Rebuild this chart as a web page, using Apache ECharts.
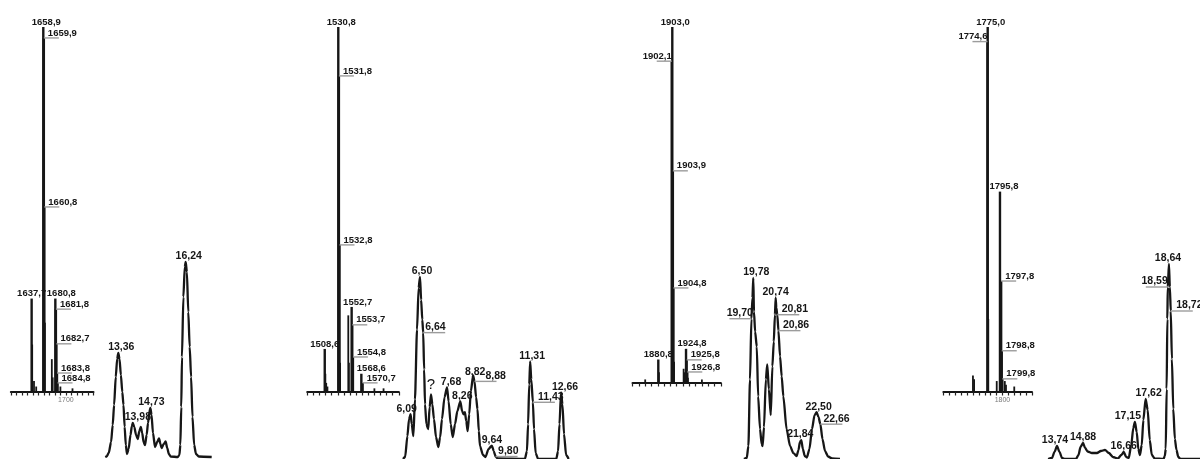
<!DOCTYPE html>
<html>
<head>
<meta charset="utf-8">
<script src="https://cdn.jsdelivr.net/npm/echarts@6/dist/echarts.min.js"></script>
<style>
  html, body { margin: 0; padding: 0; background: #fff; }
  #chart { width: 1200px; height: 459px; }
</style>
</head>
<body>
<div id="chart"></div>
<script>
// ---------- Mass spectra: [m/z, relative intensity %] ----------
const specA_labelled = [[1658.9,100],[1659.9,97],[1660.8,50.7],[1637.7,25.6],[1680.8,25.6],[1681.8,22.7],[1682.7,13.2],[1683.8,5.2],[1684.8,2.5]];
const specA_minor    = [[1638.7,13],[1642.0,3],[1661.8,19],[1674.4,9],[1676.0,4],[1646.0,1.5],[1690.0,1.5],[1712.0,1]];

const specB_labelled = [[1530.8,100],[1531.8,86.6],[1532.8,40.3],[1508.6,11.8],[1552.7,23.3],[1553.7,18.4],[1554.8,9.6],[1568.6,5.0],[1570.7,2.5]];
const specB_minor    = [[1509.6,5],[1511.0,2.5],[1533.8,8],[1547.2,21],[1548.2,8],[1513.0,1.5],[1590.0,1],[1605.0,1]];

const specC_labelled = [[1903.0,100],[1902.1,90.4],[1903.9,59.6],[1904.8,26.7],[1880.8,6.6],[1924.8,9.6],[1925.8,6.5],[1926.8,3.1]];
const specC_minor    = [[1881.8,3],[1905.8,6],[1921.0,4],[1922.5,3],[1927.8,1.5],[1860.0,1],[1950.0,1]];

const specD_labelled = [[1775.0,100],[1774.6,96],[1795.8,54.9],[1797.8,30.4],[1798.8,11.3],[1799.8,3.6]];
const specD_minor    = [[1750.0,4.5],[1752.0,3.5],[1776.0,20],[1790.3,3],[1796.8,22],[1804.0,3],[1806.0,2],[1820.0,1.5]];

// m/z tick labels printed under the spectra
const specA_ticks = [1700];
const specB_ticks = [];
const specC_ticks = [];
const specD_ticks = [1800];

// ---------- Chromatograms: [retention time, min ; signal, a.u.] ----------
const lcA_trace = [[12.80,0],[12.86,0.5],[12.95,4],[13.05,15],[13.12,32],[13.18,52],[13.25,80],[13.31,98],[13.36,104],[13.41,98],[13.47,82],[13.53,65],[13.58,52],[13.63,30],[13.68,12],[13.73,3],
  [13.80,8],[13.88,22],[13.94,31],[13.98,34],[14.04,30],[14.12,22],[14.19,18],[14.26,26],[14.32,30],[14.38,24],[14.44,15],[14.50,12],[14.57,22],[14.63,34],[14.68,44],[14.73,49],[14.78,42],[14.84,24],[14.93,10],
  [15.02,15],[15.10,18.5],[15.16,13],[15.21,9],[15.30,13],[15.38,15.5],[15.45,9],[15.52,3],[15.60,0.5],[15.90,0],[15.97,2],[16.01,12],[16.05,50],[16.08,100],[16.14,160],[16.20,190],[16.24,195],[16.29,185],[16.35,145],
  [16.41,110],[16.47,80],[16.53,40],[16.60,12],[16.68,3],[16.80,0.5],[17.35,0]];
const lcA_peaks = [13.36, 13.98, 14.73, 16.24];

const lcB_trace = [[5.76,0],[5.85,2],[5.95,23],[6.02,40],[6.09,45],[6.14,35],[6.21,23],[6.28,60],[6.37,130],[6.44,172],[6.50,183],[6.55,160],[6.60,140],[6.64,127],[6.68,90],[6.72,55],[6.78,35],[6.86,30],
  [6.92,52],[6.98,65],[7.04,55],[7.11,40],[7.20,22],[7.30,12],[7.38,22],[7.46,40],[7.57,62],[7.68,72],[7.75,58],[7.84,35],[7.93,22],[8.03,35],[8.13,48],[8.26,58],[8.34,48],[8.40,45],[8.46,47],[8.52,38],[8.58,28],
  [8.65,45],[8.72,68],[8.82,84],[8.88,78],[8.95,62],[9.01,50],[9.07,28],[9.12,13],[9.25,4],[9.36,2],[9.49,10],[9.64,13.5],[9.72,8],[9.80,2.5],[9.90,0.5],[11.08,0],[11.17,8],[11.22,35],[11.27,75],[11.31,98],
  [11.36,80],[11.43,57],[11.48,30],[11.55,6],[11.66,0],[12.45,0],[12.53,8],[12.59,35],[12.66,67],[12.72,55],[12.79,25],[12.88,4],[12.99,0]];
const lcB_peaks = [6.09, 6.50, 6.64, 7.68, 8.26, 8.82, 8.88, 9.64, 9.80, 11.31, 11.43, 12.66];
const lcB_unassigned = [6.98];

const lcC_trace = [[19.38,0],[19.50,1],[19.57,13],[19.64,80],[19.70,141],[19.745,162],[19.78,182],[19.81,148],[19.86,128],[19.93,113],[19.99,63],[20.07,30],[20.14,15],[20.18,13],[20.24,32],[20.32,80],[20.38,95],
  [20.45,70],[20.53,44],[20.60,93],[20.66,118],[20.71,145],[20.74,162],[20.77,152],[20.81,145],[20.86,129],[20.93,103],[21.00,83],[21.07,63],[21.21,30],[21.36,13],[21.50,6],[21.64,3],[21.72,9],[21.78,17],[21.84,19],
  [21.91,10],[21.99,3],[22.08,1.5],[22.19,10],[22.30,30],[22.41,44],[22.50,47],[22.58,42],[22.66,35],[22.75,20],[22.86,8],[22.99,2.5],[23.16,0.5],[23.50,0]];
const lcC_peaks = [19.70, 19.78, 20.74, 20.81, 20.86, 21.84, 22.50, 22.66];

const lcD_trace = [[13.35,0],[13.52,1],[13.63,7],[13.74,13],[13.85,7],[13.96,1],[14.09,0],[14.57,0],[14.68,4],[14.77,12],[14.88,16],[14.97,11],[15.08,7.5],[15.27,6],[15.49,6],[15.66,8],[15.84,9],[16.01,6],
  [16.19,2],[16.40,0.5],[16.56,4],[16.66,7],[16.77,2],[16.88,1],[16.99,14],[17.08,31],[17.15,37],[17.23,27],[17.30,10],[17.37,4],[17.45,14],[17.52,39],[17.62,60],[17.71,49],[17.80,19],[17.89,4],[18.02,0.5],
  [18.40,0],[18.46,3],[18.50,10],[18.54,70],[18.57,140],[18.59,172],[18.64,195],[18.68,172],[18.72,148],[18.77,100],[18.83,50],[18.90,20],[18.97,9],[19.05,2],[19.15,0],[20.0,0]];
const lcD_peaks = [13.74, 14.88, 16.66, 17.15, 17.62, 18.59, 18.64, 18.72];

// ---------- label placement (t = above, r = leader to the right, l = leader to the left) ----------
const specA_place = {'1658,9':{k:'t',dx:3},'1659,9':{k:'r'},'1660,8':{k:'r'},'1637,7':{k:'t'},'1680,8':{k:'t',dx:6},
  '1681,8':{k:'r'},'1682,7':{k:'r'},'1683,8':{k:'r'},'1684,8':{k:'r'}};
const specB_place = {'1530,8':{k:'t',dx:3},'1531,8':{k:'r'},'1532,8':{k:'r'},'1508,6':{k:'t'},'1552,7':{k:'t',dx:6},
  '1553,7':{k:'r'},'1554,8':{k:'r'},'1568,6':{k:'t',dx:10},'1570,7':{k:'r'}};
const specC_place = {'1903,0':{k:'t',dx:3},'1902,1':{k:'l'},'1903,9':{k:'r'},'1904,8':{k:'r'},'1880,8':{k:'t'},
  '1924,8':{k:'t',dx:6},'1925,8':{k:'r'},'1926,8':{k:'r'}};
const specD_place = {'1775,0':{k:'t',dx:3},'1774,6':{k:'l'},'1795,8':{k:'t',dx:4},'1797,8':{k:'r'},'1798,8':{k:'r'},'1799,8':{k:'r'}};

const lcA_place = {'13,36':{k:'t',dx:3},'13,98':{k:'t',dx:5},'14,73':{k:'t',dx:1},'16,24':{k:'t',dx:3}};
const lcB_place = {'6,09':{k:'t',dx:-4},'6,50':{k:'t',dx:2},'6,64':{k:'r',tx:2},'7,68':{k:'t',dx:4},'8,26':{k:'t',dx:2},
  '8,82':{k:'t',dx:2,dy:2},'8,88':{k:'r',tx:11},'9,64':{k:'t'},'9,80':{k:'r',tx:2.5},'11,31':{k:'t',dx:2},'11,43':{k:'r',tx:5},'12,66':{k:'t',dx:4}};
const lcC_place = {'19,70':{k:'l',tx:1.5},'19,78':{k:'t',dx:3},'20,74':{k:'t'},'20,81':{k:'r',tx:4.5},'20,86':{k:'r',tx:4.5},
  '21,84':{k:'t',dx:-1},'22,50':{k:'t',dx:2},'22,66':{k:'r',tx:3}};
const lcD_place = {'13,74':{k:'t',dx:-2},'14,88':{k:'t'},'16,66':{k:'t'},'17,15':{k:'t',dx:-7},'17,62':{k:'t',dx:3},
  '18,59':{k:'l',tx:0},'18,64':{k:'t',dx:-1},'18,72':{k:'r',tx:5.5}};

// ---------- drawing ----------
const FONT_MS = 'bold 9.5px "Liberation Sans", Arial, sans-serif';
const FONT_LC = 'bold 10.5px "Liberation Sans", Arial, sans-serif';
const INK = '#161616';
const LEAD = '#9c9c9c';

const mzText = v => v.toFixed(1).replace('.', ',');
const rtText = v => v.toFixed(2).replace('.', ',');

const panels = [
  { spec: { labelled: specA_labelled, minor: specA_minor, place: specA_place, ticks: specA_ticks, min: 1600, max: 1750,
            box: { left: 10.9, top: 27, width: 82.5, height: 365 } },
    lc:   { trace: lcA_trace, peaks: lcA_peaks, place: lcA_place, min: 12.5, max: 17.5,
            box: { left: 98.2, top: 257, width: 117, height: 200 } } },
  { spec: { labelled: specB_labelled, minor: specB_minor, place: specB_place, ticks: specB_ticks, min: 1480, max: 1630,
            box: { left: 307.3, top: 27, width: 91.5, height: 365 } },
    lc:   { trace: lcB_trace, peaks: lcB_peaks, place: lcB_place, unassigned: lcB_unassigned, min: 5.5, max: 13.5,
            box: { left: 397.1, top: 260, width: 183.2, height: 200 } } },
  { spec: { labelled: specC_labelled, minor: specC_minor, place: specC_place, ticks: specC_ticks, min: 1840, max: 1980,
            box: { left: 632.6, top: 27, width: 88.2, height: 356 } },
    lc:   { trace: lcC_trace, peaks: lcC_peaks, place: lcC_place, min: 19, max: 23.5,
            box: { left: 735.1, top: 260, width: 104.85, height: 200 } } },
  { spec: { labelled: specD_labelled, minor: specD_minor, place: specD_place, ticks: specD_ticks, min: 1700, max: 1850,
            box: { left: 943.45, top: 27, width: 88.5, height: 365 } },
    lc:   { trace: lcD_trace, peaks: lcD_peaks, place: lcD_place, min: 13, max: 20,
            box: { left: 1040.1, top: 259, width: 160.3, height: 200 } } }
];

function textEl(text, x, y, align, font, fill) {
  return { type: 'text', x: x, y: y,
    style: { text: text, font: font, fill: fill || INK, align: align, verticalAlign: 'bottom',
             textAlign: align, textVerticalAlign: 'bottom' } };
}
function leadEl(x1, y, x2) {
  return { type: 'line', shape: { x1: x1, y1: y, x2: x2, y2: y }, style: { stroke: LEAD, lineWidth: 1.4 } };
}

function annotationSeries(axisIdx, points, texts, place, font, lead) {
  return {
    type: 'custom', xAxisIndex: axisIdx, yAxisIndex: axisIdx, data: points, z: 6, silent: true, clip: false,
    encode: { x: 0, y: 1 },
    renderItem: function (params, api) {
      const p = api.coord([api.value(0), api.value(1)]);
      const txt = texts[params.dataIndex];
      const o = place[txt] || { k: 't' };
      const x = p[0], y = p[1] + (o.dy || 0);
      const kids = [];
      if (o.k === 'r') {
        kids.push(leadEl(x, p[1], x + lead));
        kids.push(textEl(txt, x + (o.tx !== undefined ? o.tx : 4), y, 'left', font));
      } else if (o.k === 'l') {
        kids.push(leadEl(x - lead, p[1], x));
        kids.push(textEl(txt, x + (o.tx !== undefined ? o.tx : 0), y, 'right', font));
      } else {
        kids.push(textEl(txt, x + (o.dx || 0), y, 'center', font));
      }
      return { type: 'group', children: kids };
    }
  };
}

function stickSeries(axisIdx, peaks, width) {
  return {
    type: 'custom', xAxisIndex: axisIdx, yAxisIndex: axisIdx, data: peaks, z: 3, silent: true,
    encode: { x: 0, y: 1 },
    renderItem: function (params, api) {
      const b = api.coord([api.value(0), 0]);
      const t = api.coord([api.value(0), api.value(1)]);
      return { type: 'line', shape: { x1: b[0], y1: b[1], x2: t[0], y2: t[1] },
               style: { stroke: INK, lineWidth: width } };
    }
  };
}

const grid = [], xAxis = [], yAxis = [], series = [];

panels.forEach(function (pn) {
  // spectrum
  const s = pn.spec;
  const si = grid.length;
  grid.push(Object.assign({ containLabel: false }, s.box));
  xAxis.push({
    type: 'value', gridIndex: si, min: s.min, max: s.max, interval: 10,
    axisLine: { show: true, onZero: false, lineStyle: { color: INK, width: 2.2 } },
    axisTick: { show: true, length: 3.5, lineStyle: { color: '#222', width: 1.2 } },
    axisLabel: { show: true, fontSize: 7, color: '#7a7a7a', margin: 5, hideOverlap: false,
                 fontFamily: '"Liberation Sans", Arial, sans-serif',
                 formatter: v => (s.ticks.indexOf(v) >= 0 ? String(v) : '') },
    splitLine: { show: false }
  });
  yAxis.push({ type: 'value', gridIndex: si, min: 0, max: 100, show: false });
  series.push(stickSeries(si, s.minor, 1.8));
  series.push(stickSeries(si, s.labelled, 2.4));
  series.push(annotationSeries(si, s.labelled, s.labelled.map(p => mzText(p[0])), s.place, FONT_MS, 15));

  // chromatogram
  const c = pn.lc;
  const ci = grid.length;
  grid.push(Object.assign({ containLabel: false }, c.box));
  xAxis.push({ type: 'value', gridIndex: ci, min: c.min, max: c.max, show: false });
  yAxis.push({ type: 'value', gridIndex: ci, min: 0, max: 200, show: false });
  series.push({
    type: 'line', xAxisIndex: ci, yAxisIndex: ci, data: c.trace, showSymbol: false, symbol: 'none',
    smooth: 0.25, smoothMonotone: 'x', clip: false, silent: true, z: 4,
    lineStyle: { color: INK, width: 2.3 }
  });
  const pts = c.peaks.map(t => c.trace.find(q => q[0] === t));
  series.push(annotationSeries(ci, pts, c.peaks.map(rtText), c.place, FONT_LC, 22));
  if (c.unassigned) {
    const upts = c.unassigned.map(t => c.trace.find(q => q[0] === t));
    series.push({
      type: 'custom', xAxisIndex: ci, yAxisIndex: ci, data: upts, z: 6, silent: true, clip: false,
      encode: { x: 0, y: 1 },
      renderItem: function (params, api) {
        const p = api.coord([api.value(0), api.value(1)]);
        return textEl('?', p[0], p[1] - 2, 'center', '15px "Liberation Sans", Arial, sans-serif', '#111');
      }
    });
  }
});

const chart = echarts.init(document.getElementById('chart'), null, { renderer: 'canvas' });
chart.setOption({ animation: false, backgroundColor: '#ffffff', grid, xAxis, yAxis, series });
</script>
</body>
</html>
